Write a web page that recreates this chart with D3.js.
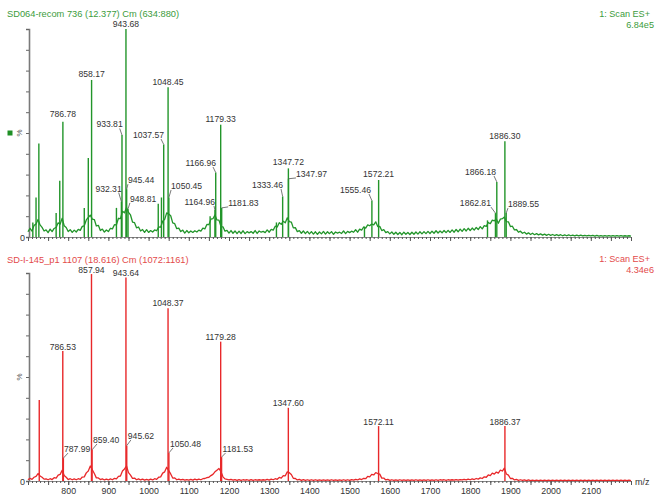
<!DOCTYPE html>
<html><head><meta charset="utf-8">
<script src="https://cdn.jsdelivr.net/npm/d3@7"></script>
<style>
body{margin:0;background:#fff}
svg{display:block}
text{font-family:"Liberation Sans",Arial,sans-serif}
</style>
</head><body>
<svg id="c" width="664" height="504"></svg>
<script>
// ---------------- DATA ----------------
const xTickLabels = [800,900,1000,1100,1200,1300,1400,1500,1600,1700,1800,1900,2000,2100];
const yTickValues = [0,10,20,30,40,50,60,70,80,90,100];

const greenTitle = "SD064-recom 736 (12.377) Cm (634:880)";
const greenScan = "1: Scan ES+";
const greenMax = "6.84e5";
const redTitle = "SD-I-145_p1 1107 (18.616) Cm (1072:1161)";
const redScan = "1: Scan ES+";
const redMax = "4.34e6";

// baseline (continuum) sampled every 5 m/z starting at 700, in % of base peak
const baseMzStart = 700, baseMzStep = 5;
const greenBaseline = [
 2.5,4.2,2.8,5.6,6.2,8.4,5.8,4.6,2.9,3.4,
 2.1,3.8,2.6,4.1,4.6,6.8,6.2,9,5.4,4.6,
 2.6,3.5,2.2,3.3,2.4,3.7,3.2,5.1,5.4,8.2,
 9.4,10.5,8.6,8.4,5.3,5.6,3.1,3.8,2.4,3.4,
 2.6,4.2,3.9,5.9,5.8,9,8.8,12.4,11.6,14.2,
 11.8,10.6,7.2,6.9,4.4,4.8,2.9,3.6,2.2,3.5,
 2.2,3.1,2.4,3.4,3,4.8,4.7,7.6,8.5,11.6,
 11,10.2,6.8,6.4,4,4.3,2.6,3.3,1.9,3.1,
 2,2.9,2.2,3,2.4,3.3,2.8,4.3,3.9,6,
 5.9,8.6,8.8,10.6,8.2,8.1,5,4.9,2.8,3.2,
 1.9,3.1,1.8,2.9,1.6,2.8,1.7,3,1.6,2.6,
 2,2.6,1.8,3.1,1.7,2.9,2.3,2.7,2.1,3.4,
 2.3,3.7,3.3,5.2,4.8,6.9,6.1,7.6,6.8,9.2,
 7.4,7.2,4.4,4.5,2.6,3.1,1.8,2.9,1.6,2.7,
 1.5,2.6,1.4,2.5,1.3,2.4,1.5,2.7,1.4,2.5,
 1.6,2.6,1.3,2.4,1.9,2.3,1.7,2.9,1.6,2.7,
 2.1,2.8,2.3,3.5,2.3,3.8,3.3,4.8,4.3,5.8,
 5.4,6.2,5.8,7.3,5,5.1,3.1,3.5,2.1,2.6,
 1.5,2.4,1.3,2.3,1.2,2.2,1.1,2.3,1.3,2.2,
 1.2,2.3,1.3,2.4,1.4,2.5,1.5,2.6,1.6,2.7,
 1.7,2.8,1.8,3,1.9,2.9,2,3.1,2.1,3.2,
 2.2,3.4,2.3,3.6,2.5,3.8,2.7,4,2.9,4.2,
 3.1,4.3,3.3,4.6,3.6,5,3.9,5.5,5.1,7,
 6.4,8.1,7.8,8.6,6.6,8.6,8.8,9.6,7.4,7.3,
 5,5.2,3.4,3.6,2.3,2.8,1.8,2.3,1.4,2,
 1.2,1.8,1.1,1.6,1,1.5,0.9,1.4,0.8,1.3,
 0.8,1.2,0.7,1.1,0.7,1.1,0.6,1,0.6,1,
 0.6,0.9,0.5,0.9,0.5,0.9,0.5,0.8,0.5,0.8,
 0.5,0.8,0.4,0.8,0.4,0.7,0.4,0.7,0.4,0.7,
 0.4,0.7,0.4,0.7,0.4,0.7,0.4,0.6,0.4,0.6,0.4
];
const redBaseline = [
 0.6,1.3,0.8,1.8,2.2,3.6,2.4,1.8,0.9,1,
 0.6,1.1,0.7,1.6,1.4,2.8,3.2,5.2,2.6,1.8,
 0.7,1.1,0.6,1,0.6,1.1,0.8,1.9,2,3.9,
 4.8,7.2,5.4,3.6,1.5,1.5,0.7,1,0.5,0.9,
 0.5,1,0.6,1.3,1,2.2,2.4,4.8,5.8,7.2,
 4,2.8,1.3,1.4,0.6,1,0.5,0.9,0.4,0.8,
 0.4,0.9,0.5,1.1,0.8,1.8,2,3.8,4.4,6.6,
 5,3.4,1.4,1.5,0.6,0.9,0.5,0.8,0.4,0.7,
 0.4,0.8,0.4,0.9,0.5,0.9,0.6,1.1,1.2,1.6,
 1.8,2.6,3.2,4.4,5.2,6,4.5,2,1,0.8,
 0.5,0.8,0.4,0.7,0.3,0.7,0.3,0.6,0.4,0.6,
 0.3,0.7,0.3,0.6,0.4,0.6,0.4,0.6,0.4,0.8,
 0.4,0.9,0.6,1.1,0.8,1.7,1.4,2.6,2.5,4.4,
 4,3.1,1.3,1.2,0.5,0.8,0.3,0.7,0.3,0.6,
 0.3,0.6,0.3,0.6,0.3,0.5,0.3,0.5,0.3,0.5,
 0.3,0.6,0.3,0.5,0.3,0.5,0.3,0.6,0.3,0.6,
 0.3,0.7,0.4,0.8,0.5,1,0.7,1.3,1.1,2.2,
 2,3.2,2.9,4,3.6,3.3,1.4,1.4,0.5,0.8,
 0.3,0.6,0.3,0.5,0.3,0.6,0.3,0.5,0.3,0.5,
 0.3,0.5,0.3,0.6,0.3,0.5,0.3,0.5,0.3,0.6,
 0.3,0.5,0.3,0.6,0.3,0.6,0.4,0.6,0.3,0.6,
 0.4,0.6,0.4,0.7,0.4,0.7,0.5,0.8,0.5,0.9,
 0.6,1,0.7,1.2,0.9,1.5,1.2,2,1.8,2.9,
 2.6,3.8,3.3,4.3,3.8,5.2,4.8,6.2,3.4,2.8,
 1.2,1.3,0.5,0.8,0.3,0.6,0.3,0.5,0.2,0.5,
 0.2,0.4,0.2,0.4,0.2,0.4,0.2,0.4,0.2,0.4,
 0.2,0.4,0.2,0.4,0.2,0.4,0.2,0.4,0.2,0.4,
 0.2,0.4,0.2,0.4,0.2,0.4,0.2,0.4,0.2,0.4,
 0.2,0.4,0.2,0.4,0.2,0.4,0.2,0.4,0.2,0.4,
 0.2,0.4,0.2,0.4,0.2,0.4,0.2,0.4,0.2,0.4,0.2
];

// labelled peaks: [m/z, % intensity]
const greenLabeledPeaks = [
 [786.78,55.4],[858.17,75.5],[932.31,17],[933.81,49],[943.68,100],[945.44,23],[948.81,13.5],
 [1037.57,44.5],[1048.45,72],[1050.45,19],[1164.96,13],[1166.96,31],[1179.33,54],[1181.83,14],
 [1333.46,19.5],[1347.72,33],[1347.97,28],[1555.46,17.5],[1572.21,27.4],
 [1862.81,11.5],[1866.18,26.5],[1886.30,46],[1889.55,11.5]
];
// unlabelled peaks
const greenOtherPeaks = [
 [712,7],[720,19],[727,45],[770,11.5],[779,27],[840,14],[850,38],[920,14],
 [1024,16],[1032,19],[1153,10],[1318,7],[1537,5],[1843,8]
];
const redLabeledPeaks = [
 [786.53,62.5],[787.99,11],[857.94,99.5],[859.40,15],[943.64,97.8],[945.62,17],
 [1048.37,83],[1050.48,13.5],[1179.28,67],[1181.53,11.5],[1347.60,35.2],
 [1572.11,26.4],[1886.37,26.4]
];
const redOtherPeaks = [[728,39]];

// ---------------- LAYOUT (label placement) ----------------
// side: T = centred above; L = text ends left of peak; R = text starts right of peak
// [side, dx, dy, leaderDx] relative to the peak top
const greenLabelLayout = {
 "786.78":["T",0,-4.5],"858.17":["T",0,-2.7],"943.68":["T",0,-1.8],"1048.45":["T",0,-2],
 "1179.33":["T",0,-2.5],"1347.72":["T",0,-3],"1572.21":["T",0,-3],"1886.30":["T",0,-2],
 "933.81":["L",0.7,-7.6,-3],"932.31":["L",0.3,-10,-3],"945.44":["R",1.3,-6,0],
 "948.81":["R",1.9,-7,0],"1037.57":["L",0.3,-6.4,-3],"1050.45":["R",2.2,-8.5,0],
 "1166.96":["L",0.3,-6.5,-3],"1164.96":["L",0.1,-5,-1],"1181.83":["R",6.5,-2,0],
 "1333.46":["L",0.4,-8.4,-2],"1347.97":["R",7.5,-1.8,0],"1555.46":["L",-0.9,-7.6,-2],
 "1862.81":["L",-4.5,-7,0],"1866.18":["L",-0.8,-6.9,-2],"1889.55":["R",1.8,-6,0]
};
const redLabelLayout = {
 "786.53":["T",0,-1.5],"857.94":["T",0,-1.5],"943.64":["T",0,-1.2],"1048.37":["T",0,-2],
 "1179.28":["T",0,-1.5],"1347.60":["T",0,-1.5],"1572.11":["T",0,-1.5],"1886.37":["T",0,-1.5],
 "787.99":["R",0.6,-6,4],"859.40":["R",0.9,-6.8,4],"945.62":["R",1.1,-6.6,3],
 "1050.48":["R",1.1,-5.9,3],"1181.53":["R",1,-5.1,3]
};

// ---------------- DRAW ----------------
const svg = d3.select("#c");
const x = d3.scaleLinear().domain([700,2200]).range([28,631]);

const panels = [
 {title:greenTitle, scan:greenScan, max:greenMax, base:greenBaseline, labeled:greenLabeledPeaks,
  other:greenOtherPeaks, layout:greenLabelLayout, color:"#22952a", tcolor:"#3c9c3c",
  y:d3.scaleLinear().domain([0,100]).range([237,29]), titleY:17, scanY:17, maxY:28, xlabels:false, square:true},
 {title:redTitle, scan:redScan, max:redMax, base:redBaseline, labeled:redLabeledPeaks,
  other:redOtherPeaks, layout:redLabelLayout, color:"#e8282a", tcolor:"#e34a4a",
  y:d3.scaleLinear().domain([0,100]).range([481,273]), titleY:263, scanY:262, maxY:273, xlabels:true, square:false}
];

const minorTicks = d3.range(700, 2201, 10);
const midTicks = d3.range(700, 2201, 50);

panels.forEach(p => {
  const g = svg.append("g");
  const y = p.y;
  // header texts
  g.append("text").attr("x",7).attr("y",p.titleY).attr("font-size",9.3).attr("fill",p.tcolor).text(p.title);
  g.append("text").attr("x",650).attr("y",p.scanY).attr("font-size",9.1).attr("text-anchor","end").attr("fill",p.tcolor).text(p.scan);
  g.append("text").attr("x",654).attr("y",p.maxY).attr("font-size",9.1).attr("text-anchor","end").attr("fill",p.tcolor).text(p.max);

  // y axis
  const ya = g.append("g").attr("transform","translate(29,0)")
    .call(d3.axisLeft(y).tickValues(yTickValues).tickSize(3).tickSizeOuter(3).tickFormat(""));
  ya.select(".domain").attr("stroke","#7a7a7a").attr("stroke-width",1.6);
  ya.selectAll(".tick line").attr("stroke","#666");
  g.append("text").attr("x",25).attr("y",y(0)+3.5).attr("text-anchor","end")
    .attr("font-size",9).attr("fill","#333").text("0");
  g.append("text").attr("transform",`translate(22,${y(50)}) rotate(-90)`).attr("text-anchor","middle")
    .attr("font-size",8).attr("fill","#555").text("%");
  if (p.square) {
    g.append("rect").attr("x",7.5).attr("y",y(50)-2.5).attr("width",5).attr("height",5).attr("fill","#1f8f25");
  }

  // x axis ticks
  const xbase = y(0);
  const xm = g.append("g").attr("transform",`translate(0,${xbase})`)
    .call(d3.axisBottom(x).tickValues(minorTicks).tickSize(2).tickSizeOuter(0).tickFormat(""));
  xm.select(".domain").attr("stroke","#888");
  xm.selectAll(".tick line").attr("stroke","#555");
  const xM = g.append("g").attr("transform",`translate(0,${xbase})`)
    .call(d3.axisBottom(x).tickValues(midTicks).tickSize(4).tickSizeOuter(0).tickFormat(""));
  xM.select(".domain").remove();
  xM.selectAll(".tick line").attr("stroke","#555");
  if (p.xlabels) {
    const xl = g.append("g").attr("transform",`translate(0,${xbase})`)
      .call(d3.axisBottom(x).tickValues(xTickLabels).tickSize(4).tickPadding(3).tickFormat(d3.format("d")));
    xl.select(".domain").remove();
    xl.selectAll(".tick line").attr("stroke","#555");
    xl.selectAll("text").attr("font-size",8.8).attr("fill","#333").attr("font-family",'"Liberation Sans",Arial,sans-serif');
    g.append("text").attr("x",635).attr("y",xbase+4).attr("font-size",9).attr("fill","#333").text("m/z");
  }

  // continuum
  const line = d3.line().x((d,i)=>x(baseMzStart + i*baseMzStep)).y(d=>y(d));
  g.append("path").attr("d",line(p.base)).attr("fill","none").attr("stroke",p.color)
    .attr("stroke-width",1.3).attr("stroke-linejoin","round");

  // peaks
  const stick = d3.line().x(d=>x(d[0])).y(d=>y(d[1]));
  p.other.concat(p.labeled).forEach(pk => {
    g.append("path").attr("d",stick([[pk[0],0],[pk[0],pk[1]]])).attr("stroke",p.color)
      .attr("stroke-width",1.4).attr("fill","none");
  });

  // labels
  p.labeled.forEach(pk => {
    const key = pk[0].toFixed(2);
    const L = p.layout[key] || ["T",0,-2];
    const px = x(pk[0]), py = y(pk[1]);
    const tx = px + L[1], ty = py + L[2];
    const anchor = L[0]==="T" ? "middle" : (L[0]==="L" ? "end" : "start");
    if (L[0] !== "T") {
      g.append("line").attr("x1",tx + L[3]).attr("y1",ty+1).attr("x2",px).attr("y2",py)
        .attr("stroke","#555").attr("stroke-width",0.8);
    }
    g.append("text").attr("x",tx).attr("y",ty).attr("text-anchor",anchor)
      .attr("font-size",8.6).attr("fill","#333").text(key);
  });
});
</script>
</body></html>
